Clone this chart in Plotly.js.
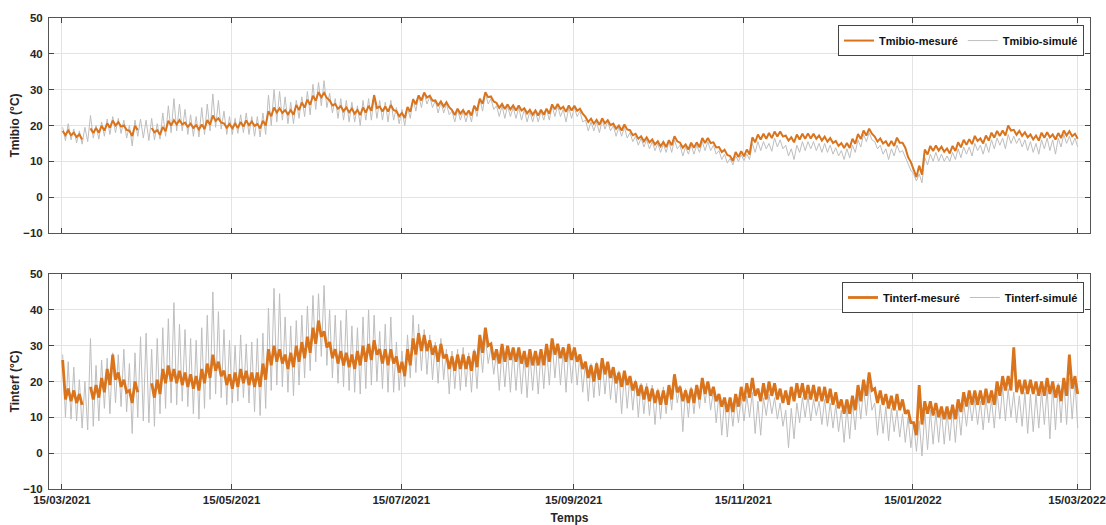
<!DOCTYPE html>
<html>
<head>
<meta charset="utf-8">
<script src="https://cdn.plot.ly/plotly-3.0.1.min.js"></script>
<style>html,body{margin:0;padding:0;background:#fff;}#chart{width:1106px;height:525px;}</style>
</head>
<body>
<div id="chart"></div>
<script>
// Day 0 = 15/03/2021; each entry k covers days 2k (daily high) and 2k+1 (daily low)
const startDate = '2021-03-15';
const tickDates = ['2021-03-15','2021-05-15','2021-07-15','2021-09-15','2021-11-15','2022-01-15','2022-03-15'];
const tickLabels = ['15/03/2021','15/05/2021','15/07/2021','15/09/2021','15/11/2021','15/01/2022','15/03/2022'];

const tmibioMesHi = [
18.5,18.6,18.0,17.5,null,19.2,19.3,19.9,20.6,21.4,
20.9,20.0,18.5,19.9,null,null,19.3,18.7,19.6,21.3,
21.5,21.5,20.8,20.5,20.1,20.3,21.5,22.8,22.0,20.6,
20.4,20.5,21.0,21.4,21.1,20.4,21.3,24.0,25.0,24.8,
24.3,24.3,25.7,26.4,27.2,28.3,29.3,29.1,27.0,26.0,
25.4,25.0,24.7,24.3,25.0,25.5,28.5,25.3,25.3,25.7,
24.0,23.5,25.2,27.3,28.4,29.2,28.3,27.0,26.7,26.5,
24.3,24.7,24.3,24.2,25.5,27.5,29.3,28.1,26.3,26.0,
25.9,25.6,25.6,24.8,24.4,24.2,24.4,24.7,25.9,26.0,
25.2,25.6,25.5,24.7,22.4,21.9,21.6,22.0,21.5,20.5,
20.0,20.3,18.7,17.7,17.0,16.7,16.1,15.6,15.4,15.9,
17.0,15.2,14.7,15.2,15.3,16.5,16.5,15.3,14.0,13.2,
11.5,12.6,12.8,13.3,16.7,17.5,17.7,17.9,18.3,18.3,
17.2,16.7,17.5,17.7,17.8,17.7,17.2,16.9,16.5,15.7,
15.1,15.1,16.3,17.6,18.6,19.1,16.9,16.4,15.6,15.7,
16.6,15.2,11.2,7.7,8.8,13.3,14.3,14.4,14.1,13.6,
14.3,15.3,16.0,16.2,17.1,16.4,17.2,18.0,18.5,18.6,
20.0,18.8,18.5,18.1,17.5,17.2,18.0,18.1,17.5,17.9,
18.6,18.4,17.7];
const tmibioMesLo = [
17.3,17.3,16.8,16.1,null,17.9,18.0,18.6,19.4,20.0,
19.7,18.8,17.1,18.7,null,null,18.1,17.4,18.4,20.0,
20.3,20.3,19.6,19.3,18.9,19.0,20.2,21.3,20.8,19.4,
19.2,19.3,19.7,20.1,19.9,19.2,20.0,22.6,23.6,23.5,
23.1,23.0,24.3,25.0,25.8,26.9,27.9,27.7,25.6,24.7,
24.0,23.7,23.3,22.9,23.6,24.1,24.9,23.9,23.9,24.3,
22.6,22.1,23.8,25.9,27.0,27.8,26.9,25.6,25.3,25.1,
22.9,23.3,22.9,22.8,24.1,26.1,27.9,26.7,24.9,24.6,
24.5,24.2,24.2,23.4,23.0,22.8,23.0,23.3,24.5,24.6,
23.8,24.2,24.1,23.3,21.0,20.5,20.2,20.6,20.1,19.1,
18.6,18.9,17.3,16.3,15.6,15.3,14.7,14.2,14.0,14.5,
15.6,13.8,13.3,13.8,13.9,15.1,15.1,13.9,12.6,11.8,
10.1,11.2,11.4,11.9,15.3,16.1,16.3,16.5,16.9,16.9,
15.8,15.3,16.1,16.3,16.4,16.3,15.8,15.5,15.1,14.3,
13.7,13.7,14.9,16.2,17.2,17.7,15.5,15.0,14.2,14.3,
15.2,13.8,9.8,5.6,6.3,11.9,12.9,13.0,12.7,12.2,
12.9,13.9,14.6,14.8,15.7,15.0,15.8,16.6,17.1,17.2,
18.6,17.4,17.1,16.7,16.1,15.8,16.6,16.7,16.1,16.5,
17.2,17.0,16.3];
const tmibioSimHi = [
19.5,20.5,19.0,18.5,19.5,22.8,20.0,21.0,21.8,22.5,
22.0,21.5,20.0,21.5,21.8,21.5,22.0,20.5,23.5,25.5,
27.5,26.0,24.5,23.0,22.5,25.0,26.0,28.8,27.0,24.0,
22.5,22.0,23.0,23.5,22.5,22.5,23.5,28.5,30.0,29.5,
28.0,26.5,27.0,28.0,29.5,31.5,32.0,32.5,29.0,27.5,
27.5,27.0,26.5,25.5,27.0,27.5,28.0,27.0,26.5,27.0,
25.0,24.5,25.0,27.5,28.5,29.0,28.0,27.0,26.5,26.0,
24.0,24.5,24.0,24.0,25.5,27.5,29.0,27.5,25.5,25.5,
25.5,25.0,25.0,24.5,24.0,24.0,24.0,24.5,25.5,25.5,
24.5,25.0,25.0,24.0,21.5,21.0,21.0,21.5,21.0,20.0,
19.5,19.5,18.0,17.0,16.5,16.0,15.5,15.0,14.8,15.5,
16.0,14.5,14.0,14.5,14.5,15.5,15.5,14.5,13.0,12.0,
10.8,11.5,11.8,12.0,15.0,15.5,15.5,15.0,16.5,16.0,
14.5,13.5,14.5,15.5,15.5,15.5,15.0,15.0,14.5,13.8,
13.0,13.5,14.5,16.0,17.5,18.0,15.5,14.5,13.5,13.5,
14.5,13.0,9.5,6.5,6.5,11.0,12.0,12.5,12.0,11.5,
12.5,13.5,14.0,14.0,15.0,14.5,15.0,16.0,16.5,16.5,
17.5,17.0,16.5,16.0,15.5,15.0,16.0,16.5,16.0,16.5,
17.5,17.0,16.5];
const tmibioSimLo = [
15.8,16.0,15.2,14.8,15.5,16.5,16.2,17.0,17.5,18.0,
17.8,16.5,14.3,17.0,16.5,15.8,16.0,16.2,17.0,18.0,
18.5,18.5,17.5,17.0,16.8,17.5,18.5,19.5,19.0,17.5,
17.5,17.8,18.0,17.5,17.0,16.8,17.5,20.0,21.0,21.5,
20.5,20.5,22.0,22.5,23.0,24.5,25.5,25.0,23.5,22.0,
21.5,21.0,21.0,20.0,21.5,21.5,22.0,21.5,21.0,21.5,
20.5,20.0,22.0,24.0,25.0,26.0,25.0,23.5,23.5,23.0,
21.0,21.5,21.0,21.0,22.5,24.0,26.0,24.5,22.5,22.0,
22.5,22.0,21.5,21.0,21.0,21.0,21.5,21.5,22.5,22.5,
21.0,22.0,22.5,21.0,18.5,18.5,18.0,19.0,18.5,17.0,
17.0,16.5,15.5,14.5,14.0,13.5,13.0,12.5,12.5,12.5,
13.5,11.5,12.0,12.0,12.5,13.0,13.0,12.0,10.5,9.5,
9.0,10.0,10.2,10.5,12.5,13.0,13.5,12.8,14.0,13.5,
11.5,10.5,12.5,13.0,13.5,13.0,12.5,12.5,12.0,11.5,
10.5,11.0,12.5,14.0,15.5,16.0,13.5,12.0,10.5,11.5,
12.5,11.0,7.5,4.5,4.0,9.0,10.0,10.0,10.0,10.0,
10.5,11.0,12.0,11.5,13.0,12.0,12.5,13.5,14.5,13.5,
15.0,15.0,14.0,13.0,12.5,12.0,13.5,13.0,12.0,14.0,
15.0,14.5,14.0];

const tinterfMesHi = [
26.0,18.0,17.5,16.5,null,18.5,19.0,21.0,23.5,27.5,
22.5,20.5,17.5,20.0,null,null,19.5,20.5,23.5,24.5,
23.5,23.0,22.5,22.0,21.5,23.5,25.0,27.5,25.5,23.0,
22.0,22.5,23.5,23.0,22.5,22.5,25.0,29.0,30.0,29.0,
27.5,28.0,30.0,31.0,32.5,35.0,37.0,34.0,31.0,29.0,
28.5,28.0,27.5,28.5,30.0,30.5,31.5,29.0,29.0,29.0,
27.0,25.5,29.0,32.0,33.5,33.0,31.5,30.0,30.5,27.5,
27.0,27.5,27.5,27.0,28.5,33.0,35.0,30.5,29.0,30.5,
30.0,29.5,29.5,28.5,29.0,28.5,29.0,30.5,32.0,30.5,
29.5,30.5,29.5,27.5,25.5,24.5,25.0,26.5,25.5,24.0,
22.5,23.0,21.5,20.0,19.0,18.5,18.0,17.5,17.5,19.0,
22.0,18.5,17.5,18.0,19.0,21.0,20.0,18.5,16.5,15.5,
15.5,16.5,18.5,19.5,21.0,18.0,19.5,20.0,19.5,18.0,
17.5,18.5,19.5,19.5,19.0,19.0,18.5,18.5,18.0,17.0,
15.0,15.0,16.0,19.0,20.5,22.5,18.0,17.5,16.5,16.0,
16.5,15.0,12.0,8.5,19.0,14.5,14.5,14.0,13.0,13.0,
13.5,15.0,17.0,17.5,17.5,17.5,18.0,17.5,20.0,21.5,
21.5,29.5,20.5,20.5,20.5,20.0,20.0,21.0,20.0,19.0,
21.0,27.5,21.5];
const tinterfMesLo = [
15.0,14.5,14.0,13.5,null,15.0,15.5,17.0,19.0,20.5,
18.5,17.0,14.0,17.0,null,null,15.5,16.5,19.5,20.0,
19.5,19.0,18.5,18.0,17.5,19.5,21.0,23.0,21.5,19.0,
18.0,18.5,19.5,19.0,18.5,18.5,20.5,24.5,25.5,25.0,
23.5,24.0,25.5,26.5,28.0,30.5,32.5,29.5,26.5,25.0,
24.5,24.0,23.5,24.5,25.5,26.0,27.5,25.0,24.5,25.0,
22.5,21.5,24.5,27.5,28.5,28.5,27.5,25.5,26.5,23.5,
23.0,23.5,23.5,23.0,24.0,28.0,30.0,26.0,25.0,25.5,
26.0,25.5,25.0,24.0,24.5,24.5,24.5,25.5,27.5,26.5,
25.5,26.0,25.5,23.5,21.0,20.0,20.5,22.0,21.0,19.5,
18.5,19.0,17.5,16.0,15.0,14.5,14.0,13.5,13.5,15.0,
17.0,14.5,14.0,14.0,15.0,16.5,16.0,14.5,13.0,11.5,
11.5,13.0,14.5,15.5,16.0,14.5,15.0,16.0,15.0,14.0,
13.5,14.5,15.5,15.0,15.0,14.5,14.5,14.0,13.5,12.5,
11.0,11.0,12.0,14.5,16.0,17.5,14.0,13.5,12.5,12.0,
12.0,11.0,8.5,5.0,8.0,11.0,10.5,10.0,9.5,9.5,
9.5,11.5,13.0,13.5,13.5,13.5,14.0,13.5,16.0,17.5,
17.5,17.0,16.5,16.5,16.5,16.0,16.0,16.5,15.5,14.5,
16.0,18.0,16.5];
const tinterfSimHi = [
27.5,25.5,24.0,20.5,20.0,32.0,24.5,26.0,26.5,28.0,
27.5,29.0,25.0,28.0,32.5,33.5,29.0,32.0,35.0,37.5,
42.0,36.0,34.5,32.0,31.5,35.0,38.5,45.0,39.5,34.5,
31.5,30.0,33.0,30.5,31.0,32.0,33.5,40.5,46.0,44.5,
38.0,35.5,37.0,38.5,41.0,44.0,44.5,46.8,40.0,38.5,
37.0,40.0,35.5,35.0,38.0,40.0,38.5,34.0,36.0,38.0,
31.0,28.5,33.0,38.5,36.0,34.5,33.0,31.0,32.0,29.0,
28.5,29.0,29.5,28.0,29.0,31.5,32.5,29.5,28.0,29.0,
28.5,29.0,28.0,27.0,28.0,27.5,28.5,29.5,31.0,30.0,
29.0,29.5,28.5,27.5,25.5,25.0,25.5,26.0,25.0,23.5,
23.0,22.5,21.5,20.5,19.5,19.5,19.0,18.0,18.5,19.0,
21.5,19.0,18.0,18.5,19.0,20.0,19.5,17.5,16.5,15.0,
14.5,15.0,15.5,16.0,17.0,14.5,15.5,16.5,15.5,14.0,
12.0,12.5,14.0,15.5,16.0,15.0,14.5,15.0,14.0,13.5,
12.0,13.0,14.0,16.5,18.5,19.0,14.0,13.5,13.0,12.5,
12.0,11.0,10.0,8.5,9.0,11.5,12.0,11.5,12.0,11.5,
12.5,13.0,14.0,14.5,15.0,14.5,15.5,15.0,17.0,18.5,
18.0,17.0,16.0,17.0,16.5,16.5,17.5,18.0,19.0,19.5,
20.5,21.0,20.0];
const tinterfSimLo = [
10.0,9.5,9.0,7.0,6.5,7.5,9.0,12.5,11.0,14.0,
13.0,11.5,5.5,10.0,9.0,8.5,7.5,11.0,12.5,14.0,
13.5,14.5,13.0,11.0,9.5,12.5,15.0,16.5,15.5,13.5,
14.0,14.5,15.5,14.0,11.5,10.5,12.5,17.5,19.0,18.5,
17.0,16.0,19.0,21.0,23.0,25.5,27.0,24.5,21.0,19.5,
18.5,17.5,17.0,16.5,18.0,19.0,20.0,18.0,17.0,17.0,
17.5,18.5,21.0,22.5,23.0,22.0,20.5,19.5,20.5,16.5,
18.0,17.5,18.5,17.0,18.0,22.5,25.0,22.0,17.5,18.5,
17.0,17.5,16.5,15.5,17.5,16.5,18.0,19.0,21.0,19.0,
17.0,19.5,19.0,17.0,14.5,15.5,16.0,16.5,15.0,14.0,
11.0,12.5,12.0,10.0,11.0,10.5,8.0,9.5,11.0,12.0,
14.0,6.0,10.0,11.0,12.5,14.0,12.0,8.5,5.0,4.5,
7.5,8.5,9.0,10.0,5.5,5.0,10.5,11.0,9.5,7.5,
1.5,4.0,8.5,10.0,9.0,10.5,8.0,7.5,7.0,6.0,
3.0,4.0,6.5,9.5,10.5,12.0,5.0,5.5,3.5,6.0,
4.5,3.0,1.5,0.5,-0.8,1.0,2.5,3.0,2.5,3.5,
3.0,5.0,7.5,9.0,8.0,6.5,8.5,7.0,9.5,9.0,
10.0,8.5,7.5,5.5,6.0,7.0,8.0,4.0,6.5,8.5,
8.0,9.5,7.0];

const ORANGE = '#D9731C';
const GRAY = '#BEBEBE';

const t0 = Date.parse(startDate + 'T00:00:00Z');
function dayStr(day) {
  const d = new Date(t0 + day * 86400000);
  return d.toISOString().slice(0, 19).replace('T', ' ');
}
// daily high / low alternating line
function zigzag(hi, lo) {
  const x = [], y = [];
  for (let k = 0; k < hi.length; k++) {
    x.push(dayStr(2 * k + 0.25)); y.push(hi[k]);
    x.push(dayStr(2 * k + 1.25)); y.push(lo[k]);
  }
  return {x, y};
}

const a = zigzag(tmibioSimHi, tmibioSimLo);
const b = zigzag(tmibioMesHi, tmibioMesLo);
const c = zigzag(tinterfSimHi, tinterfSimLo);
const d = zigzag(tinterfMesHi, tinterfMesLo);

const traces = [
  {x: a.x, y: a.y, name: 'Tmibio-simulé', type: 'scatter', mode: 'lines', line: {color: GRAY, width: 1}, xaxis: 'x', yaxis: 'y', legend: 'legend', legendrank: 2},
  {x: b.x, y: b.y, name: 'Tmibio-mesuré', type: 'scatter', mode: 'lines', line: {color: ORANGE, width: 2}, xaxis: 'x', yaxis: 'y', legend: 'legend', legendrank: 1},
  {x: c.x, y: c.y, name: 'Tinterf-simulé', type: 'scatter', mode: 'lines', line: {color: GRAY, width: 1}, xaxis: 'x2', yaxis: 'y2', legend: 'legend2', legendrank: 2},
  {x: d.x, y: d.y, name: 'Tinterf-mesuré', type: 'scatter', mode: 'lines', line: {color: ORANGE, width: 2.8}, xaxis: 'x2', yaxis: 'y2', legend: 'legend2', legendrank: 1}
];

const FONT = 'Liberation Sans, Arial, sans-serif';
const xRange = ['2021-03-10 08:00', '2022-03-19 16:00'];
function xax(showLabels, anchor) {
  return {
    type: 'date', range: xRange, anchor: anchor,
    tickmode: 'array', tickvals: tickDates, ticktext: tickLabels,
    showticklabels: showLabels,
    ticks: 'inside', ticklen: 5, tickcolor: '#444', tickwidth: 1,
    showline: true, linecolor: '#555', linewidth: 1, mirror: 'ticks',
    showgrid: true, gridcolor: '#E3E3E3', gridwidth: 1, zeroline: false,
    tickfont: {family: FONT, size: 11.5, color: '#262626', weight: 'bold'}
  };
}
function yax(domain, anchor, title) {
  return {
    domain: domain, anchor: anchor, range: [-10, 50],
    tickmode: 'array', tickvals: [-10, 0, 10, 20, 30, 40, 50],
    ticks: 'inside', ticklen: 5, tickcolor: '#444', tickwidth: 1,
    showline: true, linecolor: '#555', linewidth: 1, mirror: 'ticks',
    showgrid: true, gridcolor: '#E3E3E3', gridwidth: 1, zeroline: false,
    ticklabelstandoff: 3,
    tickfont: {family: FONT, size: 11.5, color: '#262626', weight: 'bold'},
    title: {text: title, font: {family: FONT, size: 12, color: '#262626', weight: 'bold'}, standoff: 0}
  };
}
function leg(y) {
  return {
    orientation: 'h', x: 0.9942, xanchor: 'right', y: y, yanchor: 'top',
    bgcolor: '#FFFFFF', bordercolor: '#444', borderwidth: 1,
    font: {family: FONT, size: 11, color: '#111', weight: 'bold'},
    traceorder: 'normal', itemwidth: 30
  };
}

const layout = {
  width: 1106, height: 525,
  margin: {l: 49, r: 16, t: 18, b: 36},
  paper_bgcolor: '#FFFFFF', plot_bgcolor: '#FFFFFF',
  font: {family: FONT, size: 11.5, color: '#262626'},
  showlegend: true,
  xaxis: xax(false, 'y'),
  yaxis: yax([0.5435, 1], 'x', 'Tmibio (°C)'),
  xaxis2: Object.assign(xax(true, 'y2'), {title: {text: 'Temps', font: {family: FONT, size: 12, color: '#262626', weight: 'bold'}, standoff: 8}}),
  yaxis2: yax([0, 0.4565], 'x2', 'Tinterf (°C)'),
  legend: leg(0.985),
  legend2: leg(0.4395)
};

Plotly.newPlot('chart', traces, layout, {displayModeBar: false, staticPlot: true});
</script>
</body>
</html>
